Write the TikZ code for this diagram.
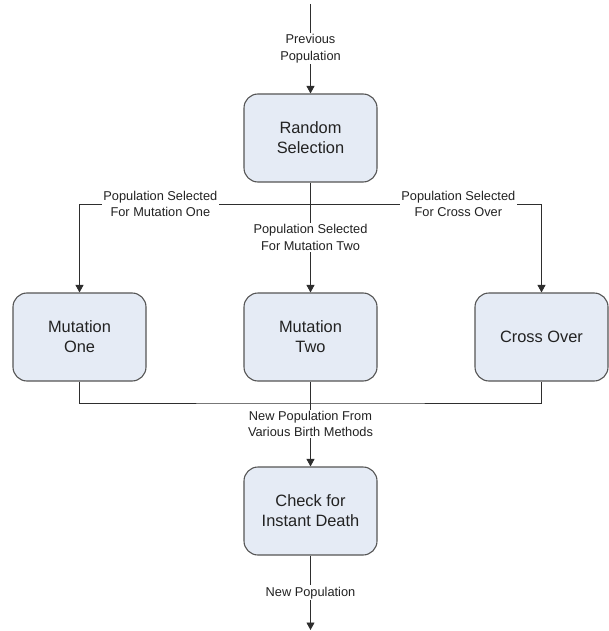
\documentclass[tikz,border=0pt]{standalone}
\usepackage{fontspec}
\setmainfont{Liberation Sans}
\usepackage{tikz}
\usetikzlibrary{arrows.meta,positioning}

\definecolor{boxfill}{HTML}{E5EBF5}
\definecolor{boxline}{HTML}{555555}
\definecolor{wire}{HTML}{2E2E2E}
\definecolor{inkgray}{HTML}{222222}

\begin{document}
\begin{tikzpicture}[x=1pt,y=-1pt,>={Triangle[length=7.5pt,width=8pt]},node distance=231pt,on grid,line width=0.9pt,draw=wire]
\tikzstyle{procbox} = [rectangle,rounded corners=14pt,draw=boxline,fill=boxfill,line width=1.1pt,minimum width=133pt,minimum height=88pt,align=center,text=inkgray,font=\fontsize{16.4}{20}\selectfont]
\tikzstyle{lbl} = [fill=white,inner sep=1.5pt,align=center,text=inkgray,font=\fontsize{12.8}{16.5}\selectfont]
    \useasboundingbox (0,0) rectangle (608,631);
    \node[procbox] (rand) at (310.5,138) {Random\\Selection};
    \node[procbox] (muttwo) [below=199pt of rand] {Mutation\\Two};
    \node[procbox] (mutone) [left=of muttwo] {Mutation\\One};
    \node[procbox] (cross) [right=of muttwo] {Cross Over};
    \node[procbox] (check) [below=174pt of muttwo] {Check for\\Instant Death};

    \coordinate (start) at (310.5,4);
    \coordinate (finish) at (310.5,630);
    \coordinate (split) at (310.5,204);
    \coordinate (merge) at (310.5,403);

    \draw[->,wire] (start) -- node[lbl] (prevlbl) {Previous\\Population} (rand);
    \draw[->,wire] (rand) -- node[lbl] (twolbl) {Population Selected\\For Mutation Two} (muttwo);
    \draw[->,wire] (split) -| node[lbl,pos=0.325] (onelbl) {Population Selected\\For Mutation One} (mutone);
    \draw[->,wire] (split) -| node[lbl,pos=0.32] (crosslbl) {Population Selected\\For Cross Over} (cross);
    \draw[wire] (mutone) |- (merge) -| (cross);
    \draw[->,wire] (muttwo) -- node[lbl] (birthlbl) {New Population From\\Various Birth Methods} (check);
    \draw[->,wire] (check) -- node[lbl] (newlbl) {New Population} (finish);
\end{tikzpicture}
\end{document}
